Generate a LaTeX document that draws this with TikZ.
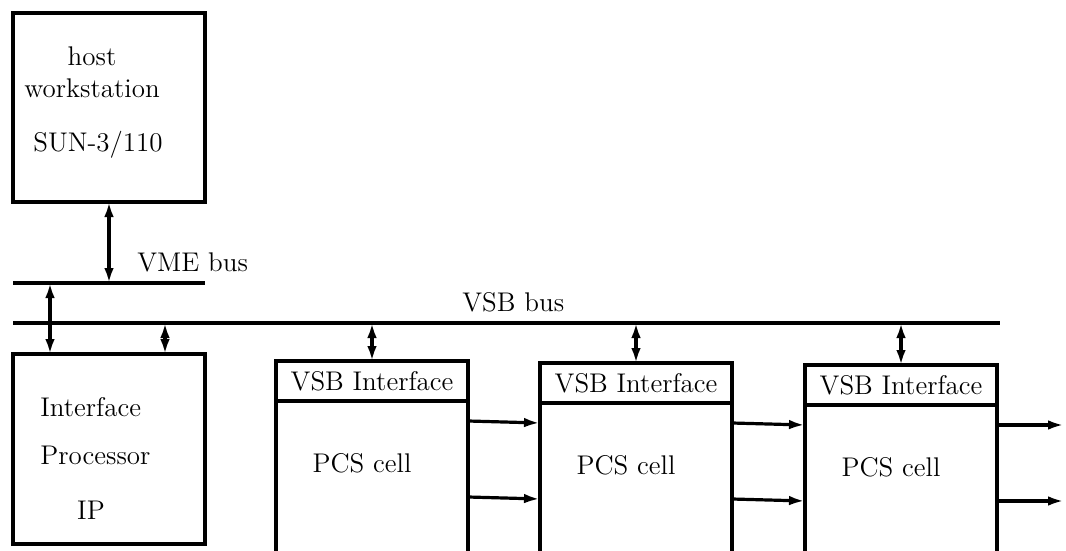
\documentclass[tikz,border=0pt]{standalone}
\usepackage{tikz}
\usetikzlibrary{arrows.meta,positioning,calc}
\tikzset{
  box/.style={rectangle, draw, line width=1.7pt, inner sep=0pt, outer sep=0pt},
  lbl/.style={font=\fontsize{13.5}{16}\selectfont, align=center, inner sep=0pt},
  head/.style={box, minimum width=96pt, minimum height=20pt, font=\fontsize{13.5}{16}\selectfont},
  cellbox/.style={box, minimum width=96pt, minimum height=110pt},
  bus/.style={line width=1.7pt},
  arr/.style={-{Latex[length=8pt,width=4.8pt]}, line width=1.6pt},
  darr/.style={{Latex[length=7.5pt,width=4.8pt]}-{Latex[length=7.5pt,width=4.8pt]}, line width=1.6pt},
}
\begin{document}
\begin{tikzpicture}[x=0.5pt, y=-0.5pt]
    \useasboundingbox (0,0) rectangle (1066,551);
    \clip (0,0) rectangle (1066,551);
    % host and interface processor
    \node[box, minimum width=96pt, minimum height=94.5pt, anchor=north west] (host) at (13,13) {};
    \node[lbl] (hosttxt) at (92,72) {host\\workstation};
    \node[lbl] (suntxt) at (98,145) {SUN-3/110};
    \node[box, minimum width=96pt, minimum height=95pt, anchor=north west] (ip) at (13,354) {};
    \node[lbl, align=left, anchor=west] (iptxt) at (40,431) {Interface\\[8pt]Processor};
    \node[lbl] (iptxt2) at (91,510) {IP};
    % buses
    \coordinate (vme w) at (13,283); \coordinate (vme e) at (205,283);
    \coordinate (vsb w) at (13,323); \coordinate (vsb e) at (1000,323);
    \draw[bus] (vme w) -- (vme e); \draw[bus] (vsb w) -- (vsb e);
    \node[lbl, anchor=west] (vmelbl) at (137,262) {VME bus};
    \node[lbl, anchor=west] (vsblbl) at (462,302) {VSB bus};
    % PCS cells
    \node[head, anchor=north west] (vif1) at (276,361) {VSB Interface};
    \node[cellbox, below=0pt of vif1] (cell1) {};
    \node[lbl] (pcs1) at ($(cell1.north)+(-10,62)$) {PCS cell};
    \node[head, anchor=north west] (vif2) at (540,363) {VSB Interface};
    \node[cellbox, below=0pt of vif2] (cell2) {};
    \node[lbl] (pcs2) at ($(cell2.north)+(-10,62)$) {PCS cell};
    \node[head, anchor=north west] (vif3) at (805,365) {VSB Interface};
    \node[cellbox, below=0pt of vif3] (cell3) {};
    \node[lbl] (pcs3) at ($(cell3.north)+(-10,62)$) {PCS cell};
    % bus connections
    \coordinate (ipa) at ([xshift=18.5pt]ip.north west);
    \coordinate (ipb) at ([xshift=-20pt]ip.north east);
    \draw[darr] (host.south) -- (host.south |- vme w);
    \draw[darr] (ipa |- vme w) -- (ipa);
    \draw[darr] (ipb |- vsb w) -- (ipb);
    \draw[darr] (vif1.north |- vsb w) -- (vif1.north);
    \draw[darr] (vif2.north |- vsb w) -- (vif2.north);
    \draw[darr] (vif3.north |- vsb w) -- (vif3.north);
    % cell to cell links
    \coordinate (out1) at (1064,425); \coordinate (out2) at (1064,501);
    \draw[arr] ([yshift=-10pt]cell1.north east) -- ([yshift=-10pt]cell2.north west);
    \draw[arr] ([yshift=-48pt]cell1.north east) -- ([yshift=-48pt]cell2.north west);
    \draw[arr] ([yshift=-10pt]cell2.north east) -- ([yshift=-10pt]cell3.north west);
    \draw[arr] ([yshift=-48pt]cell2.north east) -- ([yshift=-48pt]cell3.north west);
    \draw[arr] ([yshift=-10pt]cell3.north east) -- (out1);
    \draw[arr] ([yshift=-48pt]cell3.north east) -- (out2);
  \end{tikzpicture}
\end{document}
